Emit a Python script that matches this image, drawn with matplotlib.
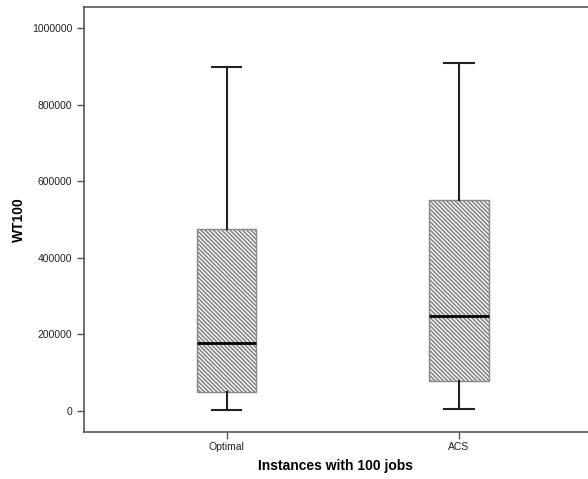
import matplotlib
matplotlib.use('Agg')
import matplotlib.pyplot as plt

# box statistics
groups = ['Optimal', 'ACS']
whisker_low = [3500, 6000]
q1 = [50000, 77500]
medians = [178000, 249000]
q3 = [475000, 551000]
whisker_high = [898000, 908000]

plt.rcParams['font.family'] = ['Liberation Sans', 'DejaVu Sans']
plt.rcParams['hatch.linewidth'] = 1.2
plt.rcParams['hatch.color'] = '#222222'

stats = []
for i, name in enumerate(groups):
    stats.append({'label': name, 'whislo': whisker_low[i], 'q1': q1[i], 'med': medians[i],
                  'q3': q3[i], 'whishi': whisker_high[i], 'fliers': []})

fig = plt.figure(figsize=(5.88, 4.79), dpi=100)
ax = fig.add_axes([84 / 588, 47 / 479, 1 - 84 / 588, 425 / 479])

bp = ax.bxp(stats, positions=[1, 2], widths=0.254, patch_artist=True, showfliers=False,
            capwidths=0.125,
            boxprops=dict(facecolor='white', edgecolor='#888888', linewidth=1.0,
                          hatch='\\' * 8),
            medianprops=dict(color='black', linewidth=2.0),
            whiskerprops=dict(color='#222222', linewidth=1.5),
            capprops=dict(color='#222222', linewidth=1.5))

ax.set_xlim(0.387, 2.555)
ax.set_ylim(-55000, 1055000)
ax.set_yticks([0, 200000, 400000, 600000, 800000, 1000000])
ax.set_yticklabels(['0', '200000', '400000', '600000', '800000', '1000000'])
ax.set_xticks([1, 2])
ax.set_xticklabels(groups)

ax.spines['right'].set_visible(False)
for s in ['left', 'top', 'bottom']:
    ax.spines[s].set_color('#555555')
    ax.spines[s].set_linewidth(1.2)
ax.tick_params(axis='both', labelsize=7.5, length=5, width=1, color='#555555', labelcolor='#222222')
ax.tick_params(axis='x', pad=2)

ax.set_ylabel('WT100', fontsize=10, fontweight='bold', labelpad=4)
ax.set_xlabel('Instances with 100 jobs', fontsize=10, fontweight='bold', labelpad=5)

fig.savefig('out.png', dpi=100)
